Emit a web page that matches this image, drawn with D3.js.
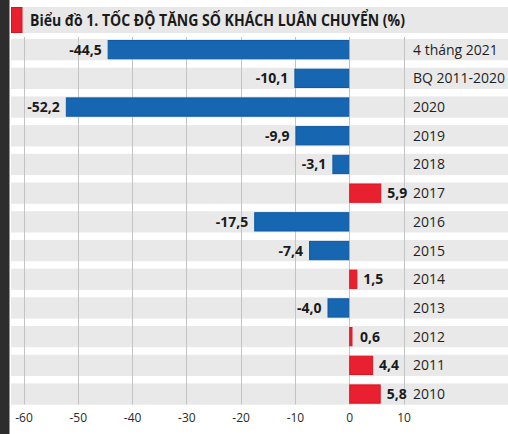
<!DOCTYPE html>
<html><head><meta charset="utf-8">
<script src="https://cdn.jsdelivr.net/npm/d3@7"></script>
<style>
html,body{margin:0;padding:0;background:#fff;}
svg{display:block;}
</style></head>
<body>
<script>
const title = "Biểu đồ 1. TỐC ĐỘ TĂNG SỐ KHÁCH LUÂN CHUYỂN (%)";
const categories = ["4 tháng 2021","BQ 2011-2020","2020","2019","2018","2017","2016","2015","2014","2013","2012","2011","2010"];
const values = [-44.5,-10.1,-52.2,-9.9,-3.1,5.9,-17.5,-7.4,1.5,-4.0,0.6,4.4,5.8];
const tickValues = [-60,-50,-40,-30,-20,-10,0,10];

const W = 508, H = 434;
const svg = d3.select("body").append("svg").attr("width", W).attr("height", H);

// left dark strip
svg.append("rect").attr("x",0).attr("y",0).attr("width",9.5).attr("height",H).attr("fill","#2d2d2d");

// title band
svg.append("rect").attr("x",11).attr("y",7).attr("width",W-11).attr("height",26).attr("fill","#e8e8e9");
svg.append("rect").attr("x",11.5).attr("y",7.5).attr("width",10.5).attr("height",25).attr("fill","#e8202f").attr("stroke","#d5141f").attr("stroke-width",1);
svg.append("text").attr("x",30).attr("y",25.5)
  .attr("font-family","'Liberation Sans Narrow','Open Sans',sans-serif")
  .attr("font-weight","bold").attr("font-size",15.5).attr("fill","#1a1a1a")
  .attr("textLength",375).attr("lengthAdjust","spacingAndGlyphs")
  .text(title);

const x = d3.scaleLinear().domain([-60,10]).range([23.5,403.5]);
const y = d3.scaleBand().domain(categories).range([35.3,408.4]).paddingInner(0.258).paddingOuter(0.129);

// row bands
svg.append("g").selectAll("rect").data(categories).join("rect")
  .attr("x",11).attr("width",W-11)
  .attr("y",d=>y(d)).attr("height",y.bandwidth())
  .attr("fill","#e9e9ea");

// gridlines
svg.append("g").selectAll("line").data(tickValues).join("line")
  .attr("x1",d=>Math.round(x(d))+0.5).attr("x2",d=>Math.round(x(d))+0.5)
  .attr("y1",37).attr("y2",404.5)
  .attr("stroke","#c3c3c3").attr("stroke-width",1);

// bars
const data = categories.map((c,i)=>({c, v: values[i]}));
svg.append("g").selectAll("rect").data(data).join("rect")
  .attr("x",d=>x(Math.min(0,d.v))+0.5)
  .attr("width",d=>Math.abs(x(d.v)-x(0))-1)
  .attr("y",d=>y(d.c)+1.5).attr("height",y.bandwidth()-3)
  .attr("fill",d=>d.v<0?"#1766b1":"#e8202f")
  .attr("stroke",d=>d.v<0?"#0f5aa3":"#df1520").attr("stroke-width",1);

// value labels
const fmt = v => v.toFixed(1).replace(".",",");
svg.append("g").selectAll("text").data(data).join("text")
  .attr("x",d=>d.v<0 ? x(d.v)-6 : Math.max(x(d.v)+6, 360))
  .attr("y",d=>y(d.c)+y.bandwidth()/2+5)
  .attr("text-anchor",d=>d.v<0?"end":"start")
  .attr("font-family","'Open Sans',sans-serif").attr("font-weight","bold")
  .attr("font-size",14).attr("fill","#1a1a1a")
  .text(d=>fmt(d.v));

// category labels
svg.append("g").selectAll("text").data(categories).join("text")
  .attr("x",413).attr("y",d=>y(d)+y.bandwidth()/2+5)
  .attr("font-family","'Open Sans',sans-serif")
  .attr("font-size",14).attr("fill","#1f1f1f")
  .text(d=>d);

// x axis tick labels
const axis = d3.axisBottom(x).tickValues(tickValues).tickSize(0).tickPadding(0).tickFormat(d=>String(d));
const gA = svg.append("g").attr("transform","translate(0,413)").call(axis);
gA.select(".domain").remove();
gA.selectAll("text")
  .attr("font-family","'Liberation Sans Narrow','Open Sans',sans-serif")
  .attr("font-size",12).attr("fill","#2a2a2a").attr("dy","0.71em");
</script>
</body></html>
